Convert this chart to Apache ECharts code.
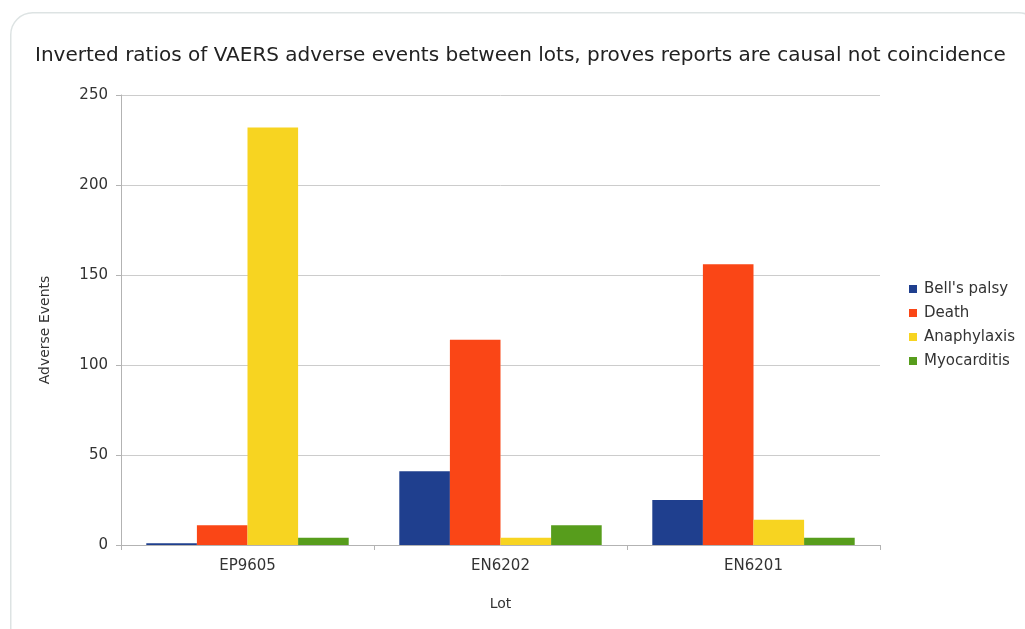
<!DOCTYPE html>
<html>
<head>
<meta charset="utf-8">
<script src="https://cdn.jsdelivr.net/npm/echarts@6/dist/echarts.min.js"></script>
<style>html,body{margin:0;padding:0;background:#fff;}#c{width:1025px;height:629px;}</style>
</head>
<body>
<div id="c"></div>
<script>
const categories = ['EP9605', 'EN6202', 'EN6201'];
const bellsPalsy = [1, 41, 25];
const death = [11, 114, 156];
const anaphylaxis = [232, 4, 14];
const myocarditis = [4, 11, 4];
const yTicks = [0, 50, 100, 150, 200, 250];

const chart = echarts.init(document.getElementById('c'));
const font = 'DejaVu Sans, sans-serif';
function bar(name, data, color) {
  return { name, type: 'bar', data, itemStyle: { color }, barGap: '0%', barCategoryGap: '20%' };
}
chart.setOption({
  animation: false,
  backgroundColor: '#ffffff',
  graphic: [{
    type: 'rect', left: 10, top: 12, z: -10,
    shape: { width: 1030, height: 640, r: 22 },
    style: { fill: '#ffffff', stroke: '#dde3e3', lineWidth: 1.5 }
  }],
  title: {
    text: 'Inverted ratios of VAERS adverse events between lots, proves reports are causal not coincidence',
    left: 30, top: 41,
    textStyle: { fontFamily: font, fontSize: 20, fontWeight: 'normal', color: '#222' }
  },
  legend: {
    orient: 'vertical', left: 904, top: 275, itemGap: 6,
    icon: 'rect', itemWidth: 8, itemHeight: 8,
    textStyle: { fontFamily: font, fontSize: 15, color: '#333', lineHeight: 18, padding: [0, 0, 0, 2] },
    data: ["Bell's palsy", 'Death', 'Anaphylaxis', 'Myocarditis']
  },
  grid: { left: 121, right: 145, top: 95, bottom: 84 },
  xAxis: {
    type: 'category', data: categories,
    name: 'Lot', nameLocation: 'middle', nameGap: 52,
    nameTextStyle: { fontFamily: font, fontSize: 14, color: '#333' },
    axisLine: { lineStyle: { color: '#b3b3b3' } },
    axisTick: { show: true, alignWithLabel: false, length: 5, lineStyle: { color: '#b3b3b3' } },
    axisLabel: { fontFamily: font, fontSize: 15, color: '#333', margin: 14 }
  },
  yAxis: {
    type: 'value', min: 0, max: 250, interval: 50,
    name: 'Adverse Events', nameLocation: 'middle', nameGap: 69, nameRotate: 90,
    nameTextStyle: { fontFamily: font, fontSize: 14, color: '#333', padding: [0, 20, 0, 0] },
    axisLine: { show: true, lineStyle: { color: '#b3b3b3' } },
    axisTick: { show: true, length: 5, lineStyle: { color: '#b3b3b3' } },
    axisLabel: { fontFamily: font, fontSize: 15, color: '#333', margin: 13,
      formatter: v => yTicks.includes(v) ? String(v) : '' },
    splitLine: { lineStyle: { color: '#cccccc' } }
  },
  series: [
    bar("Bell's palsy", bellsPalsy, '#1f3f8e'),
    bar('Death', death, '#fa4616'),
    bar('Anaphylaxis', anaphylaxis, '#f7d421'),
    bar('Myocarditis', myocarditis, '#579d1c')
  ]
});
</script>
</body>
</html>
